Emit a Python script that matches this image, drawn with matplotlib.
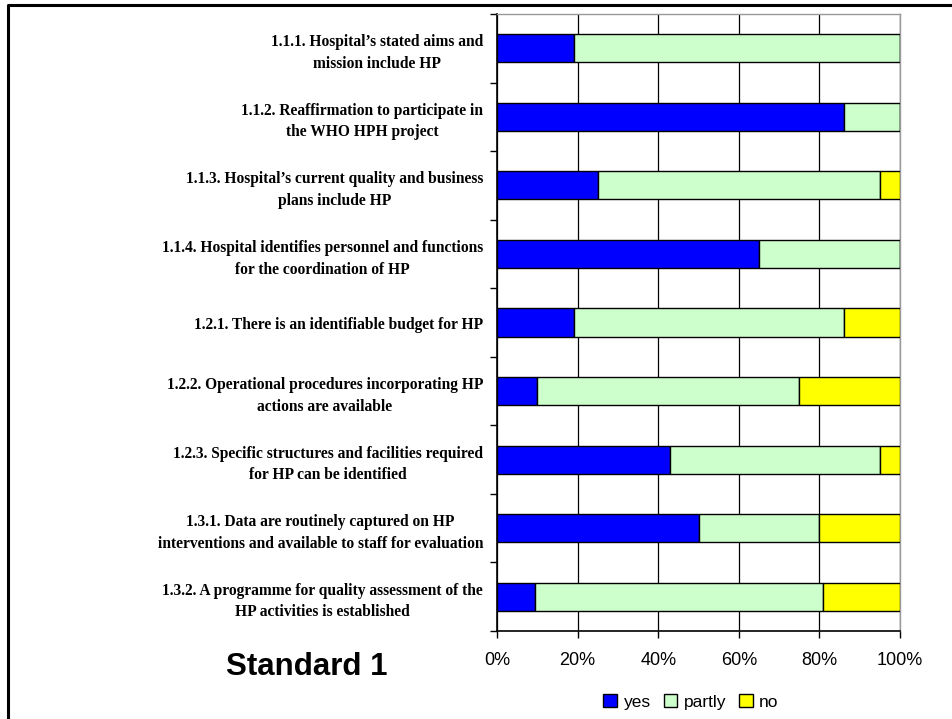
import matplotlib
matplotlib.use("Agg")
import matplotlib.pyplot as plt
import numpy as np
from matplotlib.lines import Line2D
from matplotlib.patches import Patch

CRITERIA = [
    "1.1.1. Hospital\u2019s stated aims and\nmission include HP",
    "1.1.2. Reaffirmation to participate in\nthe WHO HPH project",
    "1.1.3. Hospital\u2019s current quality and business\nplans include HP",
    "1.1.4. Hospital identifies personnel and functions\nfor the coordination of HP",
    "1.2.1. There is an identifiable budget for HP",
    "1.2.2. Operational procedures incorporating HP\nactions are available",
    "1.2.3. Specific structures and facilities required\nfor HP can be identified",
    "1.3.1. Data are routinely captured on HP\ninterventions and available to staff for evaluation",
    "1.3.2. A programme for quality assessment of the\nHP activities is established",
]
YES = [19, 86, 25, 65, 19, 10, 43, 50, 9.5]
PARTLY = [81, 14, 70, 35, 67, 65, 52, 30, 71.5]
NO = [0, 0, 5, 0, 14, 25, 5, 20, 19]
X_TICKS = [0, 20, 40, 60, 80, 100]

SERIES = [("yes", YES, "#0000FF"), ("partly", PARTLY, "#CCFFCC"), ("no", NO, "#FFFF00")]

fig = plt.figure(figsize=(9.52, 7.19), dpi=100)
ax = fig.add_axes([497 / 952, 1 - 631 / 719, 403 / 952, 617 / 719])

y = np.arange(len(CRITERIA))
left = np.zeros(len(CRITERIA))
for name, vals, color in SERIES:
    vals = np.array(vals, dtype=float)
    ax.barh(y, vals, left=left, height=0.41, color=color, edgecolor="black",
            linewidth=1.0, label=name, zorder=3)
    left += vals

ax.set_xlim(0, 100)
ax.set_ylim(len(CRITERIA) - 0.5, -0.5)
ax.set_xticks(X_TICKS)
ax.set_xticklabels([f"{t}%" for t in X_TICKS], fontsize=13, family="Liberation Sans")
ax.xaxis.grid(True, color="black", linewidth=0.9, zorder=0)
ax.tick_params(axis="x", length=5, width=1, direction="out", pad=10)

ax.set_yticks(y)
ax.set_yticklabels(CRITERIA, fontsize=11.2, family="Liberation Serif", fontweight="bold",
                   multialignment="center", linespacing=1.47)
ax.tick_params(axis="y", which="major", length=0, pad=10)
ax.set_yticks(np.arange(len(CRITERIA) + 1) - 0.5, minor=True)
ax.tick_params(axis="y", which="minor", length=5, width=1, direction="out")

for side in ("left", "bottom"):
    ax.spines[side].set_color("black")
    ax.spines[side].set_linewidth(1.2)
for side in ("top", "right"):
    ax.spines[side].set_color("#999999")
    ax.spines[side].set_linewidth(1.0)

fig.text(307 / 952, 1 - 667 / 719, "Standard 1", fontsize=22.5, fontweight="bold",
         family="Liberation Sans", ha="center", va="center")

handles = [Patch(facecolor=c, edgecolor="black", label=n) for n, _, c in SERIES]
fig.legend(handles=handles, loc="center", bbox_to_anchor=(691 / 952, 1 - 702 / 719),
           ncol=3, frameon=False, handlelength=0.8, handleheight=0.8,
           handletextpad=0.35, columnspacing=0.75, prop={"family": "Liberation Sans", "size": 12.5})

# outer frame: left and top edges
fig.add_artist(Line2D([8 / 952, 8 / 952, 1.0], [0.0, 1 - 5 / 719, 1 - 5 / 719],
                      color="black", linewidth=2.2, transform=fig.transFigure))

fig.savefig("out.png", dpi=100)
